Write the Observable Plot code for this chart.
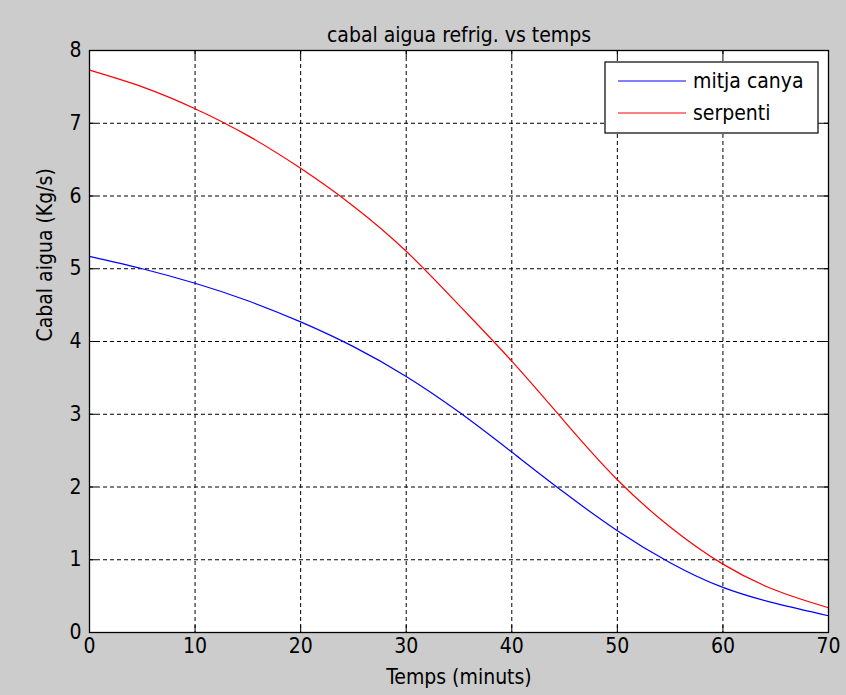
<!DOCTYPE html>
<html><head><meta charset="utf-8">
<script src="https://cdn.jsdelivr.net/npm/d3@7"></script>
<script src="https://cdn.jsdelivr.net/npm/@observablehq/plot@0.6"></script>
<style>
html,body{margin:0;padding:0;background:#cccccc;}
#chart svg{display:block;}
</style></head><body><div id="chart"></div>
<script>
const temps = [0, 5, 10, 15, 20, 25, 30, 35, 40, 45, 50, 55, 60, 65, 70];
const mitjaCanya = [5.17, 5.0, 4.8, 4.56, 4.27, 3.93, 3.52, 3.03, 2.48, 1.92, 1.40, 0.96, 0.62, 0.40, 0.23];
const serpenti = [7.73, 7.5, 7.2, 6.83, 6.38, 5.86, 5.24, 4.5, 3.73, 2.9, 2.1, 1.45, 0.94, 0.58, 0.34];
const seriesNames = ["mitja canya", "serpenti"];
const seriesColors = ["#0000ff", "#ff0000"];
const xTicks = [0, 10, 20, 30, 40, 50, 60, 70];
const yTicks = [0, 1, 2, 3, 4, 5, 6, 7, 8];
const titleText = "cabal aigua refrig. vs temps";
const xLabel = "Temps (minuts)";
const yLabel = "Cabal aigua (Kg/s)";

const W = 846, H = 695, mL = 89, mR = 18, mT = 50, mB = 63;
const fw = W - mL - mR, fh = H - mT - mB;
const font = "'Liberation Sans Narrow', 'DejaVu Sans Condensed', 'Liberation Sans', sans-serif";
const fs = 21;

const data = [
  ...temps.map((t, i) => ({t, v: mitjaCanya[i], s: seriesNames[0]})),
  ...temps.map((t, i) => ({t, v: serpenti[i], s: seriesNames[1]}))
];

const tickLen = 7;
const plot = Plot.plot({
  width: W, height: H,
  marginLeft: mL, marginRight: mR, marginTop: mT, marginBottom: mB,
  style: {background: "#cccccc", fontFamily: font, fontSize: fs + "px", color: "#000"},
  x: {domain: [0, 70]},
  y: {domain: [0, 8]},
  color: {domain: seriesNames, range: seriesColors},
  marks: [
    Plot.frame({fill: "white", stroke: null}),
    Plot.gridX(xTicks, {stroke: "#000", strokeOpacity: 1, strokeDasharray: "4,3"}),
    Plot.gridY(yTicks, {stroke: "#000", strokeOpacity: 1, strokeDasharray: "4,3"}),
    Plot.tickX(xTicks, {x: d => d, stroke: "#000", insetTop: fh - tickLen}),
    Plot.tickX(xTicks, {x: d => d, stroke: "#000", insetBottom: fh - tickLen}),
    Plot.tickY(yTicks, {y: d => d, stroke: "#000", insetRight: fw - tickLen}),
    Plot.tickY(yTicks, {y: d => d, stroke: "#000", insetLeft: fw - tickLen}),
    Plot.line(data, {x: "t", y: "v", stroke: "s", curve: "natural", strokeWidth: 1.2}),
    Plot.axisX(xTicks, {tickSize: 0, tickPadding: 6, fontSize: fs, tickFormat: d => String(d), label: null}),
    Plot.axisY(yTicks, {tickSize: 0, tickPadding: 8, fontSize: fs, tickFormat: d => String(d), label: null}),
    Plot.frame({stroke: "#000", strokeWidth: 1.3}),
    Plot.text([titleText], {frameAnchor: "top", dy: -23, fontSize: fs, text: d => d}),
    Plot.text([xLabel], {frameAnchor: "bottom", dy: 51, fontSize: fs, text: d => d}),
    Plot.text([yLabel], {frameAnchor: "left", dx: -44, rotate: -90, fontSize: fs, text: d => d})
  ]
});

// legend box (top-right inside frame)
const svg = d3.select(plot);
const lx = mL + fw - 223, ly = mT + 12, lw = 213, lh = 71;
const lg = svg.append("g");
lg.append("rect").attr("x", lx).attr("y", ly).attr("width", lw).attr("height", lh)
  .attr("fill", "white").attr("stroke", "#000").attr("stroke-width", 1.2);
seriesNames.forEach((name, i) => {
  const yy = ly + 19 + i * 32;
  lg.append("line").attr("x1", lx + 13).attr("x2", lx + 81).attr("y1", yy).attr("y2", yy)
    .attr("stroke", seriesColors[i]).attr("stroke-width", 1.2);
  lg.append("text").attr("x", lx + 88).attr("y", yy).attr("dy", "0.35em")
    .attr("text-anchor", "start")
    .attr("font-family", font).attr("font-size", fs).attr("fill", "#000").text(name);
});

document.getElementById("chart").appendChild(plot);
</script>
</body></html>
